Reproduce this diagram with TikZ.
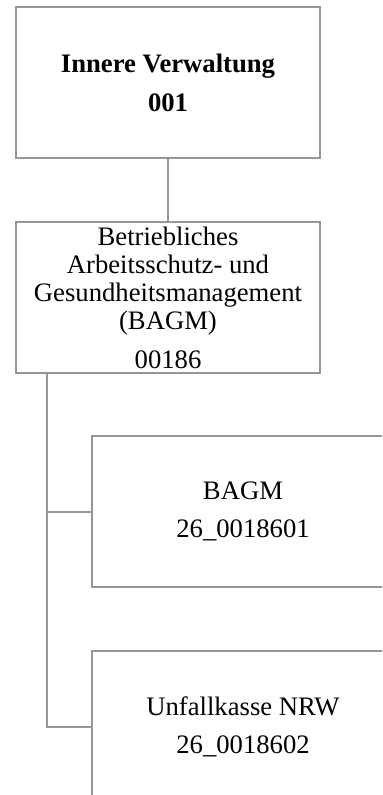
\documentclass[tikz,border=0pt]{standalone}
\usepackage{fontspec}
\setmainfont{Liberation Serif}
\definecolor{linegray}{RGB}{150,150,150}
\begin{document}
\begin{tikzpicture}[x=0.75pt,y=-0.75pt,
  box/.style={draw=linegray, line width=1.5pt, fill=white, inner sep=0pt, outer sep=0pt,
    align=center, font=\fontsize{20}{21}\selectfont, text=black},
  wide/.style={box, minimum width=228pt, minimum height=113.25pt},
  sub/.style={box, minimum width=226.5pt, minimum height=113.25pt},
  conn/.style={draw=linegray, line width=1.5pt}]
\useasboundingbox (0,0) rectangle (382,795);
\clip (0,0) rectangle (382,795);
\node[wide] (b1) at (168,82.5) {\textbf{Innere Verwaltung}\\[8.25pt]\textbf{001}};
\node[wide] (b2) at (168,297.5) {Betriebliches\\Arbeitsschutz- und\\Gesundheitsmanagement\\(BAGM)\\[8.25pt]00186};
\node[sub] (b3) at (243,511.5) {BAGM\\[7.5pt]26\_0018601};
\node[sub] (b4) at (243,726.5) {Unfallkasse NRW\\[7.5pt]26\_0018602};
\draw[conn] (b1.south) -- (b2.north);
\coordinate (t) at ([xshift=23.25pt]b2.south west);
\draw[conn] (t) |- (b4.west);
\draw[conn] (t |- b3.west) -- (b3.west);
\end{tikzpicture}
\end{document}
